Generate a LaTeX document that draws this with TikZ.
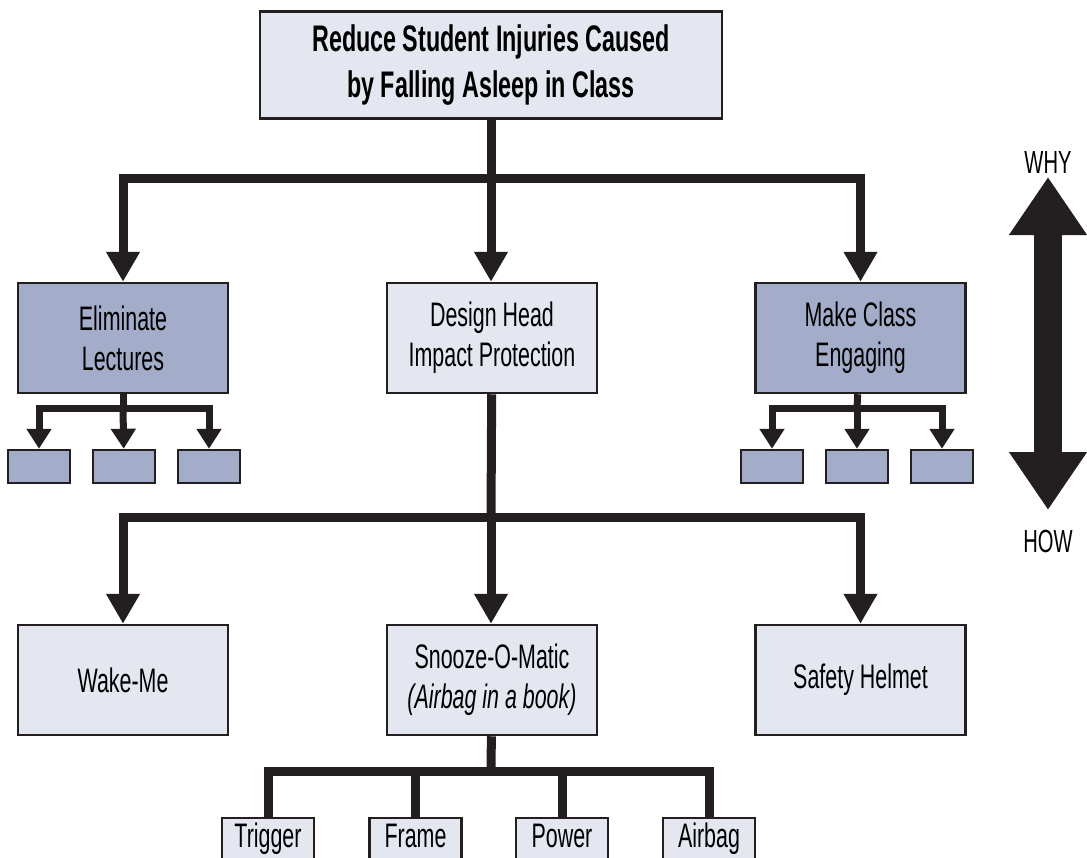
\documentclass[tikz,border=0pt]{standalone}
\usepackage{fontspec}
\setmainfont{Liberation Sans}[FakeStretch=0.63]
\usetikzlibrary{arrows.meta}
\definecolor{light}{HTML}{E4E6F0}
\definecolor{dark}{HTML}{A3ACC8}
\definecolor{ink}{HTML}{231F20}
\begin{document}
\begin{tikzpicture}[x=1pt,y=-1pt]
    \tikzstyle{proc} = [rectangle, minimum width=210pt, minimum height=110pt, text centered, align=center, draw=ink, line width=2.5pt, fill=light, font=\fontsize{34}{40}\selectfont]
    \tikzstyle{proc1} = [proc, fill=dark]
    \tikzstyle{small} = [rectangle, minimum width=62pt, minimum height=33pt, draw=ink, line width=2.5pt, fill=dark]
    \tikzstyle{part} = [rectangle, minimum width=92pt, minimum height=52pt, draw=ink, line width=2.5pt, fill=light, text height=20pt, text depth=13pt, font=\fontsize{34}{40}\selectfont]
    \tikzstyle{line} = [ink, line width=9pt]
    \tikzstyle{arrow} = [line, -{Triangle[width=32pt,length=30pt]}]
    \tikzstyle{thin} = [ink, line width=7pt]
    \tikzstyle{arrow1} = [thin, -{Triangle[width=24pt,length=20pt]}]
    \clip (0,0) rectangle (1087,857);
    \fill[white] (0,0) rectangle (1087,857);
    \node (a) [proc, minimum width=462pt, minimum height=107pt, font=\bfseries\fontsize{37}{46}\selectfont] at (491, 65) {Reduce Student Injuries Caused\\by Falling Asleep in Class};
    \node (b) [proc1] at (123, 338) {Eliminate\\Lectures};
    \node (c) [proc] at (492, 338) {Design Head\\Impact Protection};
    \node (d) [proc1] at (860.5, 338) {Make Class\\Engaging};
    \node (b1) [small] at (39, 466.5) {};
    \node (b2) [small] at (124, 466.5) {};
    \node (b3) [small] at (209, 466.5) {};
    \node (d1) [small] at (772, 466.5) {};
    \node (d2) [small] at (857, 466.5) {};
    \node (d3) [small] at (942, 466.5) {};
    \node (e) [proc] at (123, 680) {Wake-Me};
    \node (f) [proc] at (492, 680) {Snooze-O-Matic\\\textit{(Airbag in a book)}};
    \node (g) [proc] at (860.5, 680) {Safety Helmet};
    \node (f1) [part] at (268, 844) {Trigger};
    \node (f2) [part] at (415.5, 844) {Frame};
    \node (f3) [part] at (562, 844) {Power};
    \node (f4) [part] at (709, 844) {Airbag};
    \coordinate (ja) at (491, 178);
    \coordinate (jb) at (123, 408);
    \coordinate (jc) at (491, 517);
    \coordinate (jd) at (857, 408);
    \coordinate (jf) at (491, 771);
    \draw[line] (a) -- (ja);
    \draw[arrow] (ja) -| (b);
    \draw[arrow] (ja) -- (ja |- c.north);
    \draw[arrow] (ja) -| (d);
    \draw[thin] (b) -- (jb);
    \draw[arrow1] (jb) -| (b1);
    \draw[arrow1] (jb) -- (b2);
    \draw[arrow1] (jb) -| (b3);
    \draw[thin] (d) -- (jd);
    \draw[arrow1] (jd) -| (d1);
    \draw[arrow1] (jd) -- (d2);
    \draw[arrow1] (jd) -| (d3);
    \draw[line] (c) -- (jc);
    \draw[arrow] (jc) -| (e);
    \draw[arrow] (jc) -- (jc |- f.north);
    \draw[arrow] (jc) -| (g);
    \draw[line] (f) -- (jf);
    \draw[line] (jf) -| (f1);
    \draw[line] (jf) -| (f2);
    \draw[line] (jf) -| (f3);
    \draw[line] (jf) -| (f4);
    % why / how
    \coordinate (why) at (1048, 177);
    \coordinate (how) at (1048, 510);
    \draw[ink, line width=28pt, {Triangle[width=74pt,length=58pt]}-{Triangle[width=74pt,length=58pt]}] (why) -- (how);
    \node (w) [font=\fontsize{32}{36}\selectfont] at (1048, 162) {WHY};
    \node (h) [font=\fontsize{32}{36}\selectfont] at (1048, 541) {HOW};
\end{tikzpicture}
\end{document}
